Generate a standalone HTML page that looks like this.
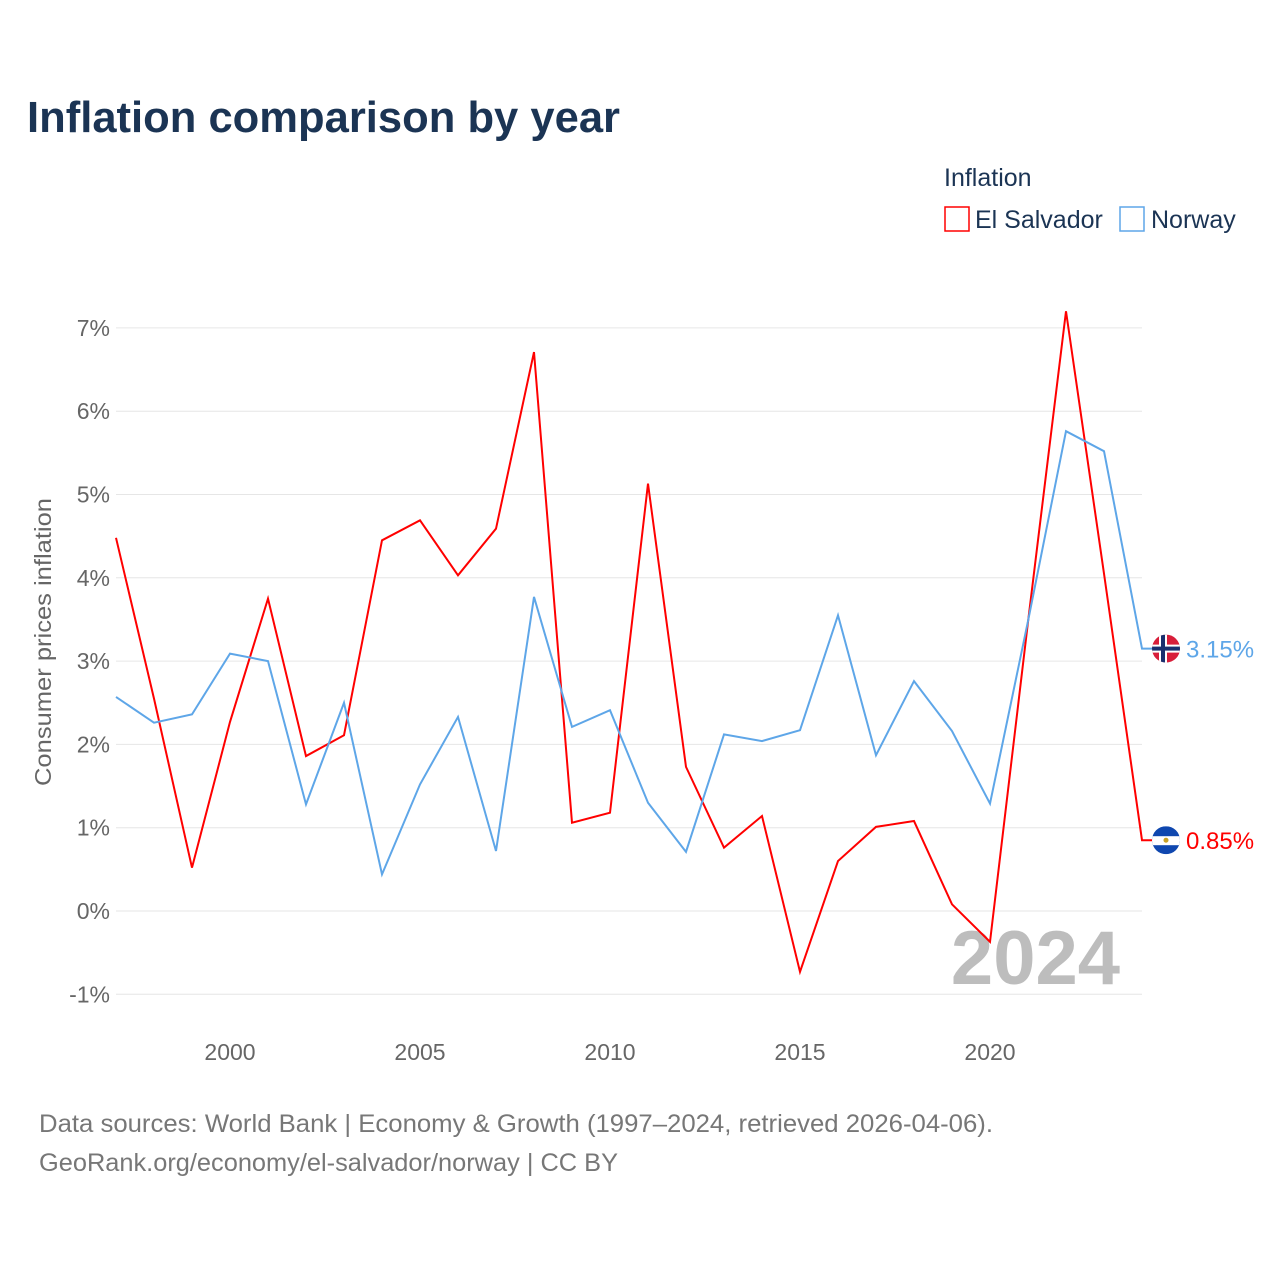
<!DOCTYPE html>
<html><head><meta charset="utf-8">
<style>
body{margin:0;background:#fff;font-family:"Liberation Sans",sans-serif;}
#wrap{position:relative;width:1280px;height:1280px;overflow:hidden;}
</style></head>
<body>
<div id="wrap">
<svg id="chart" width="1280" height="1280">
<text x="27" y="132" font-size="44" font-weight="bold" fill="#1b3454" textLength="593" lengthAdjust="spacingAndGlyphs">Inflation comparison by year</text>
<text x="944" y="186" font-size="25" fill="#1b3454">Inflation</text>
<g><rect x="945" y="207" width="24" height="24" fill="none" stroke="#ff0000" stroke-width="1.5"/><text x="975" y="228" font-size="25" fill="#1b3454">El Salvador</text></g>
<g><rect x="1120" y="207" width="24" height="24" fill="none" stroke="#5ea6e8" stroke-width="1.5"/><text x="1151" y="228" font-size="25" fill="#1b3454">Norway</text></g>
<text transform="translate(51,642) rotate(-90)" text-anchor="middle" font-size="23" fill="#666" textLength="288" lengthAdjust="spacingAndGlyphs">Consumer prices inflation</text>
<text x="1120" y="984" text-anchor="end" font-size="76" font-weight="bold" fill="#bdbdbd">2024</text>
<g id="grid"></g><g id="series"></g>
<text x="39" y="1132" font-size="25" fill="#777" textLength="954" lengthAdjust="spacingAndGlyphs">Data sources: World Bank | Economy &amp; Growth (1997–2024, retrieved 2026-04-06).</text>
<text x="39" y="1171" font-size="25" fill="#777" textLength="579" lengthAdjust="spacingAndGlyphs">GeoRank.org/economy/el-salvador/norway | CC BY</text>
</svg>
</div>
<script>
const years=[1997,1998,1999,2000,2001,2002,2003,2004,2005,2006,2007,2008,2009,2010,2011,2012,2013,2014,2015,2016,2017,2018,2019,2020,2021,2022,2023,2024];
const elSalvador=[4.48,2.55,0.52,2.27,3.75,1.86,2.11,4.45,4.69,4.03,4.59,6.71,1.06,1.18,5.13,1.73,0.76,1.14,-0.73,0.60,1.01,1.08,0.08,-0.37,3.47,7.20,4.05,0.85];
const norway=[2.57,2.26,2.36,3.09,3.00,1.28,2.50,0.44,1.52,2.33,0.72,3.77,2.21,2.41,1.30,0.71,2.12,2.04,2.17,3.55,1.87,2.76,2.16,1.29,3.48,5.76,5.52,3.15];
const yTicks=[-1,0,1,2,3,4,5,6,7];
const xTicks=[2000,2005,2010,2015,2020];
const NS="http://www.w3.org/2000/svg";
const X=y=>116+(y-1997)*38;
const Y=v=>911-v*83.3;
function mk(t,a,p){const e=document.createElementNS(NS,t);for(const k in a)e.setAttribute(k,a[k]);p.appendChild(e);return e;}
const grid=document.getElementById('grid'),ser=document.getElementById('series');
yTicks.forEach(v=>{
 const l=mk('line',{x1:116,x2:1142,y1:Y(v),y2:Y(v),stroke:'#e6e6e6','stroke-width':1},grid);
 
 
 const t=mk('text',{x:110,y:Y(v)+8,'text-anchor':'end','font-size':23,fill:'#666'},grid);
 t.textContent=v+'%';
 
 
});
xTicks.forEach(y=>{
 const t=mk('text',{x:X(y),y:1060,'text-anchor':'middle','font-size':23,fill:'#666'},grid);
 t.textContent=y;
 
 
});
function line(vals,color,name){
 const pts=vals.map((v,i)=>X(years[i])+','+Y(v)).join(' ');
 const last=vals[vals.length-1];
 const p=mk('polyline',{points:pts+' '+(X(2024)+10)+','+Y(last),fill:'none',stroke:color,'stroke-width':2},ser);
 
 
}
line(elSalvador,'#ff0000','el-salvador');
line(norway,'#5ea6e8','norway');
function endLabel(v,color,name,flag){
 const cx=X(2024)+24,cy=Y(v);
 const g=mk('g',{},ser);
 
 
 const cp=mk('clipPath',{id:'c'+name},g);mk('circle',{cx:cx,cy:cy,r:14},cp);
 const f=mk('g',{'clip-path':'url(#c'+name+')'},g);
 flag(f,cx,cy);
 const t=mk('text',{x:cx+20,y:cy+9,'font-size':24,fill:color},g);
 t.textContent=v.toFixed(2)+'%';
}
endLabel(norway[norway.length-1],'#5ea6e8','norway',(f,cx,cy)=>{
 mk('rect',{x:cx-14,y:cy-14,width:28,height:28,fill:'#d81e3a'},f);
 mk('rect',{x:cx-14,y:cy-4,width:28,height:8,fill:'#fff'},f);
 mk('rect',{x:cx-7,y:cy-14,width:8,height:28,fill:'#fff'},f);
 mk('rect',{x:cx-14,y:cy-2,width:28,height:4,fill:'#1a2f6e'},f);
 mk('rect',{x:cx-5,y:cy-14,width:4,height:28,fill:'#1a2f6e'},f);
});
endLabel(elSalvador[elSalvador.length-1],'#ff0000','el-salvador',(f,cx,cy)=>{
 mk('rect',{x:cx-14,y:cy-14,width:28,height:28,fill:'#0f47af'},f);
 mk('rect',{x:cx-14,y:cy-4,width:28,height:9,fill:'#fff'},f);
 mk('circle',{cx:cx,cy:cy,r:2.5,fill:'#c9a227'},f);
});
</script>
</body></html>
